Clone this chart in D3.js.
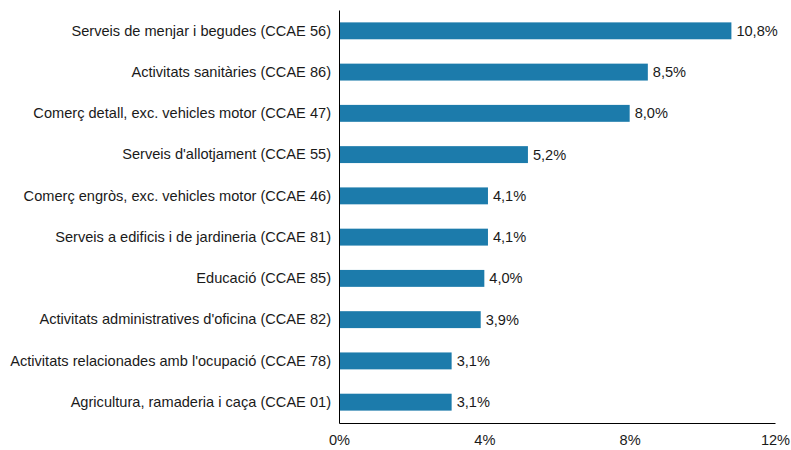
<!DOCTYPE html>
<html lang="ca">
<head>
<meta charset="UTF-8">
<title>Afiliació per activitat</title>
<script src="https://d3js.org/d3.v7.min.js"></script>
<style>
    body { margin: 0; background: #fff; }
    svg text { font-family: "Liberation Sans", Arial, sans-serif; font-size: 14.6px; fill: #1a1a1a; }
</style>
</head>
<body>
<svg width="791" height="450"></svg>
<script>
    const categories = [
        "Serveis de menjar i begudes (CCAE 56)",
        "Activitats sanitàries (CCAE 86)",
        "Comerç detall, exc. vehicles motor (CCAE 47)",
        "Serveis d'allotjament (CCAE 55)",
        "Comerç engròs, exc. vehicles motor (CCAE 46)",
        "Serveis a edificis i de jardineria (CCAE 81)",
        "Educació (CCAE 85)",
        "Activitats administratives d'oficina (CCAE 82)",
        "Activitats relacionades amb l'ocupació (CCAE 78)",
        "Agricultura, ramaderia i caça (CCAE 01)"
    ];
    const values = [10.8, 8.5, 8.0, 5.2, 4.1, 4.1, 4.0, 3.9, 3.1, 3.1];
    const xTicks = [0, 4, 8, 12];

    const data = categories.map((c, i) => ({ cat: c, val: values[i] }));

    const margin = { top: 10, right: 16, bottom: 27, left: 339 };
    const width = 791 - margin.left - margin.right;
    const height = 450 - margin.top - margin.bottom;

    const svg = d3.select("svg")
        .append("g")
        .attr("transform", `translate(${margin.left},${margin.top})`);

    const x = d3.scaleLinear().domain([0, 12]).range([0, width]);
    const y = d3.scaleBand()
        .domain(categories)
        .range([0, height])
        .paddingInner(0.59)
        .paddingOuter(0.3);

    const fmt = v => d3.format(".1f")(v).replace(".", ",") + "%";

    svg.selectAll(".bar")
        .data(data)
        .enter().append("rect")
        .attr("class", "bar")
        .attr("x", 0)
        .attr("y", d => y(d.cat))
        .attr("width", d => x(d.val))
        .attr("height", y.bandwidth())
        .attr("fill", "#1c7bab");

    svg.selectAll(".label")
        .data(data)
        .enter().append("text")
        .attr("class", "label")
        .attr("x", d => x(d.val) + 5)
        .attr("y", d => y(d.cat) + y.bandwidth() / 2)
        .attr("dy", "0.35em")
        .text(d => fmt(d.val));

    // eix y
    const yAxis = svg.append("g")
        .call(d3.axisLeft(y).tickSize(0).tickPadding(8));
    yAxis.select(".domain").attr("stroke", "#000");
    yAxis.selectAll("text").attr("font-size", null).attr("font-family", null);

    // eix x
    const xAxis = svg.append("g")
        .attr("transform", `translate(0,${height})`)
        .call(d3.axisBottom(x).tickValues(xTicks).tickSize(0).tickPadding(12)
            .tickFormat(d => d + "%"));
    xAxis.select(".domain").attr("stroke", "#000");
    xAxis.selectAll("text").attr("font-size", null).attr("font-family", null);
</script>
</body>
</html>
